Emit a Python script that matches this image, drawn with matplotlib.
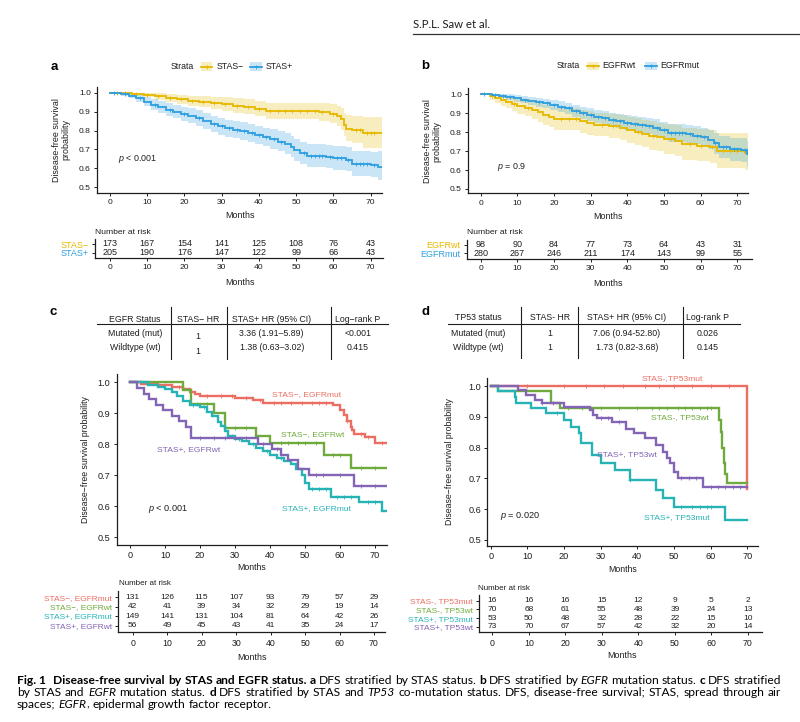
import numpy as np
import matplotlib.pyplot as plt
from matplotlib.patches import Rectangle

W, H = 800, 722
plt.rcParams['font.family'] = ['Liberation Sans', 'DejaVu Sans']
plt.rcParams['mathtext.fontset'] = 'custom'
plt.rcParams['mathtext.it'] = 'Liberation Sans:italic'
plt.rcParams['mathtext.rm'] = 'Liberation Sans'

CAPF = ['Lato', 'DejaVu Sans']
TXT = '#1e1e1e'
GOLD, BLUE = '#E7B800', '#2E9FDF'
RED, GREEN, CYAN, PURPLE = '#EC6E63', '#6FAA3C', '#27B3B6', '#8364B5'

risk_times = [0, 10, 20, 30, 40, 50, 60, 70]

# ---- panel a: STAS- / STAS+
a_neg_t = [0, 3, 6, 9, 12, 15, 18, 21, 24, 27, 30, 33, 36, 39, 42, 56, 59, 61, 62, 62.8, 63.5, 65, 68]
a_neg_s = [1.0, 0.997, 0.993, 0.988, 0.98, 0.973, 0.965, 0.958, 0.952, 0.946, 0.94, 0.932, 0.925, 0.916,
           0.903, 0.897, 0.89, 0.877, 0.86, 0.83, 0.81, 0.805, 0.785]
a_neg_lo = [1.0, 0.99, 0.982, 0.975, 0.963, 0.952, 0.94, 0.93, 0.922, 0.913, 0.905, 0.895, 0.885, 0.875,
            0.86, 0.852, 0.842, 0.826, 0.805, 0.77, 0.745, 0.735, 0.71]
a_neg_hi = [1.0, 1.0, 1.0, 1.0, 0.997, 0.993, 0.99, 0.985, 0.982, 0.978, 0.975, 0.97, 0.965, 0.958,
            0.948, 0.943, 0.938, 0.93, 0.918, 0.895, 0.88, 0.878, 0.87]
a_neg_cens = [2, 4, 7, 10, 13, 16, 19, 22, 25, 28, 31, 34, 37, 40, 43, 45, 47, 49, 51, 53, 55, 57, 60, 66, 67, 69, 70, 71]

a_pos_t = [0, 3, 5, 7, 9, 11, 13, 15, 17, 19, 21, 23, 25, 27, 29, 31, 33, 35, 37, 39, 41, 43, 45, 47,
           48.5, 49.5, 51, 53, 58, 60, 63.5, 65, 70, 72]
a_pos_s = [1.0, 0.995, 0.985, 0.97, 0.952, 0.935, 0.922, 0.91, 0.9, 0.888, 0.878, 0.865, 0.85, 0.835,
           0.822, 0.812, 0.803, 0.795, 0.787, 0.775, 0.765, 0.755, 0.742, 0.73, 0.715, 0.695, 0.68,
           0.667, 0.662, 0.653, 0.645, 0.625, 0.618, 0.61]
a_pos_lo = [1.0, 0.985, 0.97, 0.95, 0.928, 0.908, 0.893, 0.878, 0.866, 0.852, 0.84, 0.826, 0.81, 0.793,
            0.779, 0.768, 0.758, 0.749, 0.74, 0.727, 0.716, 0.705, 0.69, 0.677, 0.661, 0.64, 0.624,
            0.61, 0.604, 0.594, 0.585, 0.562, 0.554, 0.54]
a_pos_hi = [1.0, 1.0, 0.998, 0.99, 0.978, 0.965, 0.955, 0.944, 0.935, 0.925, 0.917, 0.906, 0.893, 0.879,
            0.867, 0.858, 0.85, 0.843, 0.836, 0.825, 0.816, 0.807, 0.796, 0.785, 0.772, 0.754, 0.74,
            0.729, 0.725, 0.718, 0.712, 0.693, 0.688, 0.69]
a_pos_cens = [1, 4, 8, 12, 16, 20, 24, 28, 30, 32, 34, 36, 38, 40, 42, 44, 46, 52, 54, 55, 56, 57, 59,
              61, 62, 64, 66, 67, 68, 69, 71]

# ---- panel b: EGFRwt / EGFRmut
b_wt_t = [0, 2.5, 4, 5.5, 7, 8.5, 10, 12, 14, 15.5, 17, 18.5, 20, 27, 29, 31, 35, 38, 40, 42, 44, 46,
          48, 50, 53, 55, 59, 62.5, 64.5, 72]
b_wt_s = [1.0, 0.99, 0.98, 0.97, 0.96, 0.95, 0.94, 0.93, 0.918, 0.905, 0.89, 0.88, 0.87, 0.857, 0.848,
          0.84, 0.832, 0.822, 0.81, 0.8, 0.79, 0.78, 0.772, 0.762, 0.752, 0.735, 0.728, 0.72, 0.698, 0.69]
b_wt_lo = [1.0, 0.97, 0.955, 0.94, 0.925, 0.912, 0.898, 0.885, 0.87, 0.855, 0.838, 0.825, 0.813, 0.797,
           0.787, 0.777, 0.768, 0.756, 0.743, 0.731, 0.72, 0.708, 0.698, 0.687, 0.675, 0.655, 0.647,
           0.637, 0.61, 0.6]
b_wt_hi = [1.0, 1.0, 1.0, 0.998, 0.993, 0.987, 0.98, 0.973, 0.965, 0.955, 0.943, 0.935, 0.927, 0.917,
           0.91, 0.903, 0.897, 0.89, 0.88, 0.872, 0.864, 0.857, 0.85, 0.843, 0.836, 0.823, 0.818, 0.812,
           0.797, 0.795]
b_wt_cens = [3, 9, 13, 22, 24, 26, 33, 36, 43, 47, 52, 57, 60, 63, 66, 68, 70]

b_mut_t = [0, 3, 5, 7, 9, 11, 13, 15, 17, 19, 21, 23, 25, 27, 29, 31, 33, 35, 37, 39, 41, 43, 45, 47,
           49, 51, 56, 58, 60, 62, 63.5, 65, 68, 71, 72.5]
b_mut_s = [1.0, 0.997, 0.99, 0.985, 0.978, 0.972, 0.966, 0.958, 0.952, 0.944, 0.935, 0.925, 0.913,
           0.902, 0.893, 0.882, 0.874, 0.866, 0.858, 0.85, 0.843, 0.838, 0.832, 0.824, 0.812, 0.795,
           0.79, 0.782, 0.772, 0.76, 0.74, 0.72, 0.71, 0.705, 0.685]
b_mut_lo = [1.0, 0.99, 0.978, 0.97, 0.961, 0.953, 0.945, 0.935, 0.928, 0.918, 0.907, 0.896, 0.882, 0.87,
            0.86, 0.848, 0.839, 0.83, 0.821, 0.812, 0.804, 0.798, 0.791, 0.782, 0.769, 0.75, 0.744,
            0.735, 0.723, 0.709, 0.686, 0.663, 0.65, 0.642, 0.615]
b_mut_hi = [1.0, 1.0, 1.0, 0.999, 0.995, 0.991, 0.987, 0.982, 0.977, 0.971, 0.964, 0.955, 0.945, 0.935,
            0.927, 0.917, 0.91, 0.903, 0.896, 0.889, 0.883, 0.879, 0.874, 0.867, 0.856, 0.841, 0.837,
            0.83, 0.821, 0.811, 0.794, 0.777, 0.77, 0.768, 0.755]
b_mut_cens = [1, 4, 6, 8, 12, 16, 18, 20, 22, 24, 26, 28, 30, 32, 34, 36, 38, 40, 42, 44, 46, 48, 50,
              52, 53, 54, 55, 57, 59, 61, 64, 66, 67, 69, 70, 72]

# ---- panel c: STAS x EGFR
c_names = ['STAS\u2212, EGFRmut', 'STAS\u2212, EGFRwt', 'STAS+, EGFRmut', 'STAS+, EGFRwt']
c_t = [
    [0, 3, 8, 12, 15, 17, 18.5, 20, 30, 35, 38, 58, 60, 61, 62, 63, 63.5, 64, 67, 70],
    [0, 15, 17.5, 24, 27, 36, 40, 55.5, 63],
    [0, 5, 8, 10, 12, 13.5, 15, 17, 20, 22, 23.5, 25, 26, 27, 28, 30, 32, 34, 36, 38, 40, 42, 44, 46,
     47.5, 49, 50, 51, 57.5, 65.5, 72],
    [0, 2, 4, 5.5, 7.5, 9.5, 12, 14, 16, 17.5, 36.5, 40.5, 43, 45, 48, 51, 64],
]
c_s = [
    [1.0, 0.995, 0.99, 0.985, 0.977, 0.97, 0.962, 0.955, 0.95, 0.943, 0.935, 0.928, 0.911, 0.895, 0.875,
     0.857, 0.845, 0.833, 0.825, 0.805],
    [1.0, 0.976, 0.93, 0.902, 0.853, 0.826, 0.803, 0.767, 0.723],
    [1.0, 0.993, 0.986, 0.978, 0.97, 0.955, 0.94, 0.928, 0.92, 0.905, 0.89, 0.873, 0.858, 0.843, 0.828,
     0.818, 0.81, 0.8, 0.788, 0.777, 0.766, 0.755, 0.745, 0.735, 0.72, 0.7, 0.675, 0.655, 0.63, 0.613,
     0.586],
    [1.0, 0.982, 0.964, 0.946, 0.928, 0.91, 0.892, 0.874, 0.856, 0.82, 0.802, 0.784, 0.766, 0.748, 0.72,
     0.70, 0.667],
]
c_cens = [
    [10, 14, 22, 26, 29, 33, 37, 41, 43, 46, 49, 52, 54, 56, 62, 66, 68, 72],
    [19, 22, 30, 33, 43, 45, 48, 50, 53, 58, 60, 66, 70],
    [18, 21, 29, 31, 35, 39, 43, 52, 54, 56, 59, 61, 63, 68, 70],
    [20, 24, 27, 30, 33, 38, 42, 53, 55, 60, 66, 70],
]
c_risk = [
    [131, 126, 115, 107, 93, 79, 57, 29],
    [42, 41, 39, 34, 32, 29, 19, 14],
    [149, 141, 131, 104, 81, 64, 42, 26],
    [56, 49, 45, 43, 41, 35, 24, 17],
]
c_head = ['EGFR Status', 'STAS\u2212 HR', 'STAS+ HR (95% CI)', 'Log\u2212rank P']
c_rows = [['Mutated (mut)', '1', '3.36 (1.91\u20135.89)', '<0.001'],
          ['Wildtype (wt)', '1', '1.38 (0.63\u20133.02)', '0.415']]

# ---- panel d: STAS x TP53
d_names = ['STAS-, TP53mut', 'STAS-, TP53wt', 'STAS+, TP53mut', 'STAS+, TP53wt']
d_t = [
    [0, 70],
    [0, 2, 16.5, 19, 62.3, 62.8, 63.2, 63.6, 64, 64.4],
    [0, 2, 6.5, 7, 11, 15, 20, 22, 24, 24.5, 27.5, 30, 34, 38, 45, 47, 50, 64],
    [0, 7.5, 9.5, 12, 14, 20, 27, 28, 29, 33, 37, 39, 42, 45, 47, 48, 49, 50, 51, 58],
]
d_s = [
    [1.0, 0.667],
    [1.0, 0.985, 0.944, 0.927, 0.89, 0.85, 0.8, 0.75, 0.715, 0.684],
    [1.0, 0.985, 0.965, 0.944, 0.927, 0.911, 0.89, 0.868, 0.848, 0.814, 0.776, 0.749, 0.727, 0.695,
     0.662, 0.635, 0.608, 0.565],
    [1.0, 0.987, 0.97, 0.955, 0.946, 0.933, 0.922, 0.906, 0.895, 0.884, 0.862, 0.846, 0.83, 0.808,
     0.787, 0.765, 0.749, 0.722, 0.70, 0.671],
]
d_cens = [
    [10, 20, 26, 31, 36, 42, 46, 50, 55, 60, 65],
    [21, 25, 30, 35, 40, 44, 46, 48, 51, 53, 55, 57, 59, 60],
    [18, 38, 52, 55, 57, 59, 60],
    [14, 17, 30, 32, 35, 52, 54, 56, 60, 62, 64, 66, 68],
]
d_risk = [
    [16, 16, 16, 15, 12, 9, 5, 2],
    [70, 68, 61, 55, 48, 39, 24, 13],
    [53, 50, 48, 32, 28, 22, 15, 10],
    [73, 70, 67, 57, 42, 32, 20, 14],
]
d_head = ['TP53 status', 'STAS- HR', 'STAS+ HR (95% CI)', 'Log-rank P']
d_rows = [['Mutated (mut)', '1', '7.06 (0.94-52.80)', '0.026'],
          ['Wildtype (wt)', '1', '1.73 (0.82-3.68)', '0.145']]

a_risk = [[173, 167, 154, 141, 125, 108, 76, 43], [205, 190, 176, 147, 122, 99, 66, 43]]
b_risk = [[98, 90, 84, 77, 73, 64, 43, 31], [280, 267, 246, 211, 174, 143, 99, 55]]


fig = plt.figure(figsize=(W / 100, H / 100), dpi=100)
ov = fig.add_axes([0, 0, 1, 1])
ov.set_xlim(0, W)
ov.set_ylim(H, 0)
ov.axis('off')


def box(l, t, r, b):
    ax = fig.add_axes([l / W, 1 - b / H, (r - l) / W, (b - t) / H])
    ax.patch.set_alpha(0)
    return ax


def label_at(axis_obj, ax, x, y):
    bb = ax.get_position()
    axis_obj.set_label_coords((x / W - bb.x0) / bb.width, ((1 - y / H) - bb.y0) / bb.height)
    axis_obj.label.set_va('center')
    axis_obj.label.set_ha('center')


def style(ax, fs):
    for s in ['top', 'right']:
        ax.spines[s].set_visible(False)
    for s in ['left', 'bottom']:
        ax.spines[s].set_linewidth(0.9)
        ax.spines[s].set_color(TXT)
    ax.tick_params(length=2.5, width=0.7, pad=2, labelsize=fs, colors=TXT)


def km(ax, t, s, end, color, lw, cens, lo=None, hi=None):
    tt = list(t) + [end]
    ss = list(s) + [s[-1]]
    if lo is not None:
        ax.fill_between(tt, list(lo) + [lo[-1]], list(hi) + [hi[-1]], step='post',
                        color=color, alpha=0.25, lw=0)
    ax.step(tt, ss, where='post', color=color, lw=lw, solid_joinstyle='miter')
    idx = np.searchsorted(t, cens, side='right') - 1
    ax.plot(cens, np.asarray(s)[idx], ls='none', marker='+', ms=3.2, mew=0.6, color=color)


def surv_axes(l, t, r, b, xlim, ylim, fs, lfs, ylab, ylab_xy, months_xy):
    ax = box(l, t, r, b)
    ax.set_xlim(*xlim)
    ax.set_ylim(*ylim)
    style(ax, fs)
    ax.set_xticks(risk_times)
    ax.set_yticks([0.5, 0.6, 0.7, 0.8, 0.9, 1.0])
    ax.set_yticklabels(['0.5', '0.6', '0.7', '0.8', '0.9', '1.0'])
    ax.set_xlabel('Months', fontsize=lfs, color=TXT)
    label_at(ax.xaxis, ax, *months_xy)
    ax.set_ylabel(ylab, fontsize=lfs, color=TXT, linespacing=1.05)
    label_at(ax.yaxis, ax, *ylab_xy)
    return ax


def risk_table(l, t, r, b, xlim, rows_y, names, counts, colors, fs, tfs, title_xy, months_xy):
    ax = box(l, t, r, b)
    ax.set_xlim(*xlim)
    ax.set_ylim(b, t)
    style(ax, tfs)
    ax.set_xticks(risk_times)
    ax.set_yticks(rows_y)
    ax.set_yticklabels(names, fontsize=fs)
    for lab, c in zip(ax.get_yticklabels(), colors):
        lab.set_color(c)
    for y, row in zip(rows_y, counts):
        for x, n in zip(risk_times, row):
            ax.text(x, y, str(n), ha='center', va='center', fontsize=fs, color=TXT)
    ax.set_xlabel('Months', fontsize=6.4, color=TXT)
    label_at(ax.xaxis, ax, *months_xy)
    ov.text(title_xy[0], title_xy[1], 'Number at risk', fontsize=title_xy[2], color=TXT,
            va='center', ha='left')
    return ax


def legend_key(x0, x1, y, color, label):
    ov.add_patch(Rectangle((x0, y - 4.3), x1 - x0, 8.6, color=color, alpha=0.25, lw=0))
    ov.plot([x0, x1], [y, y], color=color, lw=1.3)
    ov.plot([(x0 + x1) / 2], [y], marker='+', ms=3.2, mew=0.6, color=color)
    ov.text(x1 + 4, y, label, fontsize=6.3, color=TXT, va='center', ha='left')


# ---------------- panel a
ax_a = surv_axes(97, 86.7, 382, 193, (-3.49, 73.04), (0.47, 1.0317), 6.1, 6.4,
                 'Disease-free survival\nprobability', (61, 140), (240, 215.7))
km(ax_a, a_neg_t, a_neg_s, 73, GOLD, 1.3, a_neg_cens, a_neg_lo, a_neg_hi)
km(ax_a, a_pos_t, a_pos_s, 73, BLUE, 1.3, a_pos_cens, a_pos_lo, a_pos_hi)
ax_a.text(2.2, 0.648, r'$p$ < 0.001', fontsize=6.4, color=TXT, va='center', ha='left')
risk_table(95, 239, 383, 258, (-4.03, 73.3), [244, 252.7], ['STAS\u2212', 'STAS+'], a_risk,
           [GOLD, BLUE], 6.5, 6.1, (95, 232, 6.1), (240, 282))
ov.text(170.3, 66.7, 'Strata', fontsize=6.3, color=TXT, va='center', ha='left')
legend_key(201, 212.3, 66.7, GOLD, 'STAS\u2212')
legend_key(250, 261.5, 66.7, BLUE, 'STAS+')
ov.text(54, 67, 'a', fontsize=9.5, fontweight='bold', va='center', ha='center', color='black')

# ---------------- panel b
ax_b = surv_axes(468, 88, 748, 193.3, (-3.46, 72.9), (0.477, 1.033), 6.1, 6.4,
                 'Disease-free survival\nprobability', (432, 141), (608, 217))
km(ax_b, b_wt_t, b_wt_s, 73, GOLD, 1.3, b_wt_cens, b_wt_lo, b_wt_hi)
km(ax_b, b_mut_t, b_mut_s, 73, BLUE, 1.3, b_mut_cens, b_mut_lo, b_mut_hi)
ax_b.text(4.4, 0.618, r'$p$ = 0.9', fontsize=6.4, color=TXT, va='center', ha='left')
risk_table(466.7, 239.5, 751.7, 259, (-3.82, 73.9), [244.7, 253.3], ['EGFRwt', 'EGFRmut'], b_risk,
           [GOLD, BLUE], 6.5, 6.1, (466.7, 232.7, 6.1), (608, 284))
ov.text(556.7, 66, 'Strata', fontsize=6.3, color=TXT, va='center', ha='left')
legend_key(586.7, 598.7, 66, GOLD, 'EGFRwt')
legend_key(645, 656.7, 66, BLUE, 'EGFRmut')
ov.text(425, 66, 'b', fontsize=9.5, fontweight='bold', va='center', ha='center', color='black')

# ---------------- panel c
c_cols = [RED, GREEN, CYAN, PURPLE]
ax_c = surv_axes(116.7, 374, 386.7, 545, (-3.8, 73.3), (0.475, 1.027), 6.6, 6.3,
                 'Disease\u2212free survival probability', (86, 460), (251.7, 568))
for t, s, cz, col in zip(c_t, c_s, c_cens, c_cols):
    km(ax_c, t, s, 73, col, 1.7, cz)
ax_c.text(50.5, 0.962, c_names[0], color=RED, fontsize=6.1, ha='center', va='center')
ax_c.text(52.2, 0.83, c_names[1], color=GREEN, fontsize=6.1, ha='center', va='center')
ax_c.text(53.3, 0.594, c_names[2], color=CYAN, fontsize=6.1, ha='center', va='center')
ax_c.text(16.7, 0.784, c_names[3], color=PURPLE, fontsize=6.1, ha='center', va='center')
ax_c.text(5.2, 0.59, r'$p$ < 0.001', fontsize=6.6, color=TXT, va='center', ha='left')
risk_table(118.3, 591, 385, 632.3, (-4.18, 73.2), [597.3, 606.7, 616, 625.7], c_names, c_risk,
           c_cols, 6.0, 6.3, (119.3, 583.3, 5.8), (251.7, 657.3))
ov.text(53, 312, 'c', fontsize=9.5, fontweight='bold', va='center', ha='center', color='black')

# ---------------- panel d
ax_d = surv_axes(487.3, 378, 758, 546, (-0.93, 72.9), (0.4805, 1.026), 6.6, 6.3,
                 'Disease\u2212free survival probability', (450, 462), (622.7, 570))
for t, s, cz, col in zip(d_t, d_s, d_cens, c_cols):
    km(ax_d, t, s, 70, col, 1.7, cz)
ax_d.text(49.4, 1.023, 'STAS-,TP53mut', color=RED, fontsize=6.1, ha='center', va='center')
ax_d.text(51.6, 0.898, d_names[1], color=GREEN, fontsize=6.1, ha='center', va='center')
ax_d.text(50.7, 0.574, d_names[2], color=CYAN, fontsize=6.1, ha='center', va='center')
ax_d.text(37.1, 0.776, d_names[3], color=PURPLE, fontsize=6.1, ha='center', va='center')
ax_d.text(2.5, 0.578, r'$p$ = 0.020', fontsize=6.6, color=TXT, va='center', ha='left')
risk_table(479.3, 595, 761.7, 632.3, (-3.56, 73.8), [600.7, 609.3, 618.3, 626.7], d_names, d_risk,
           c_cols, 6.0, 6.3, (478.3, 588.3, 5.8), (622, 656))
ov.text(425, 312, 'd', fontsize=9.5, fontweight='bold', va='center', ha='center', color='black')


# ---------------- summary tables above c and d
def hr_table(head, rows, col_x, head_y, row_y, col2_y, vlines, hline, fs=6.3):
    for x, h in zip(col_x, head):
        ov.text(x, head_y, h, fontsize=fs, ha='center', va='center', color=TXT)
    for r_i, row in enumerate(rows):
        for c_i, (x, cell) in enumerate(zip(col_x, row)):
            y = col2_y[r_i] if c_i == 1 else row_y[r_i]
            ov.text(x, y, cell, fontsize=fs, ha='center', va='center', color=TXT)
    for x in vlines[0]:
        ov.plot([x, x], [vlines[1], vlines[2]], color=TXT, lw=0.8)
    ov.plot([hline[0], hline[1]], [hline[2], hline[2]], color=TXT, lw=0.8)


hr_table(c_head, c_rows, [135, 198, 271.7, 358], 319, [334, 347], [336.7, 351.7],
         ([170.7, 226.7, 330.7], 307, 359), (96.7, 388, 324))
hr_table(d_head, d_rows, [478, 550, 626.7, 708], 317, [333, 348], [333, 348],
         ([520.7, 578.3, 682.7], 307, 358), (448, 740, 324))

# ---------------- header
ov.text(413, 25, 'S.P.L. Saw et al.', fontsize=8.2, family=CAPF, va='center', ha='left', color=TXT)
ov.plot([413, 800], [34.3, 34.3], color='#333333', lw=0.9)

# ---------------- caption (justified)
cap_lines = [
    [[('Fig. 1', 'b')], [('Disease-free', 'b')], [('survival', 'b')], [('by', 'b')], [('STAS', 'b')],
     [('and', 'b')], [('EGFR', 'b')], [('status.', 'b')], [('a', 'b')], [('DFS', 'n')],
     [('stratified', 'n')], [('by', 'n')], [('STAS', 'n')], [('status.', 'n')], [('b', 'b')],
     [('DFS', 'n')], [('stratified', 'n')], [('by', 'n')], [('EGFR', 'i')], [('mutation', 'n')],
     [('status.', 'n')], [('c', 'b')], [('DFS', 'n')], [('stratified', 'n')]],
    [[('by', 'n')], [('STAS', 'n')], [('and', 'n')], [('EGFR', 'i')], [('mutation', 'n')],
     [('status.', 'n')], [('d', 'b')], [('DFS', 'n')], [('stratified', 'n')], [('by', 'n')],
     [('STAS', 'n')], [('and', 'n')], [('TP53', 'i')], [('co-mutation', 'n')], [('status.', 'n')],
     [('DFS,', 'n')], [('disease-free', 'n')], [('survival;', 'n')], [('STAS,', 'n')],
     [('spread', 'n')], [('through', 'n')], [('air', 'n')]],
    [[('spaces;', 'n')], [('EGFR', 'i'), (',', 'n')], [('epidermal', 'n')], [('growth', 'n')],
     [('factor', 'n')], [('receptor.', 'n')]],
]
cap_y = [680, 692, 704]
cap_just = [True, True, False]
CAP_L, CAP_R = 17, 781
renderer = fig.canvas.get_renderer()


def cap_word(parts, y, fs):
    out = []
    for txt, st in parts:
        a = ov.text(0, y, txt, fontsize=fs, family=CAPF, color='black', va='center', ha='left',
                    fontweight='bold' if st == 'b' else 'normal',
                    fontstyle='italic' if st == 'i' else 'normal')
        out.append((a, a.get_window_extent(renderer).width))
    return out


# size the caption font so the first line fills the column with normal spacing
probe = [cap_word(w, -50, 10) for w in cap_lines[0]]
nat = sum(wd for p in probe for _, wd in p) + (len(probe) - 1) * 10 * 100 / 72 * 0.25 + 4.5
for p in probe:
    for a, _ in p:
        a.remove()
CFS = 10 * (CAP_R - CAP_L) / nat

for words, y, just in zip(cap_lines, cap_y, cap_just):
    arts = [cap_word(w, y, CFS) for w in words]
    widths = [sum(wd for _, wd in p) for p in arts]
    extra = 4.5 if words[0][0][0] == 'Fig. 1' else 0
    if just:
        gap = (CAP_R - CAP_L - sum(widths) - extra) / (len(words) - 1)
    else:
        gap = CFS * 100 / 72 * 0.25
    x = CAP_L
    for i, parts in enumerate(arts):
        for a, wd in parts:
            a.set_x(x)
            x += wd
        x += gap + (extra if i == 0 else 0)

fig.savefig('out.png', dpi=100, facecolor='white')
